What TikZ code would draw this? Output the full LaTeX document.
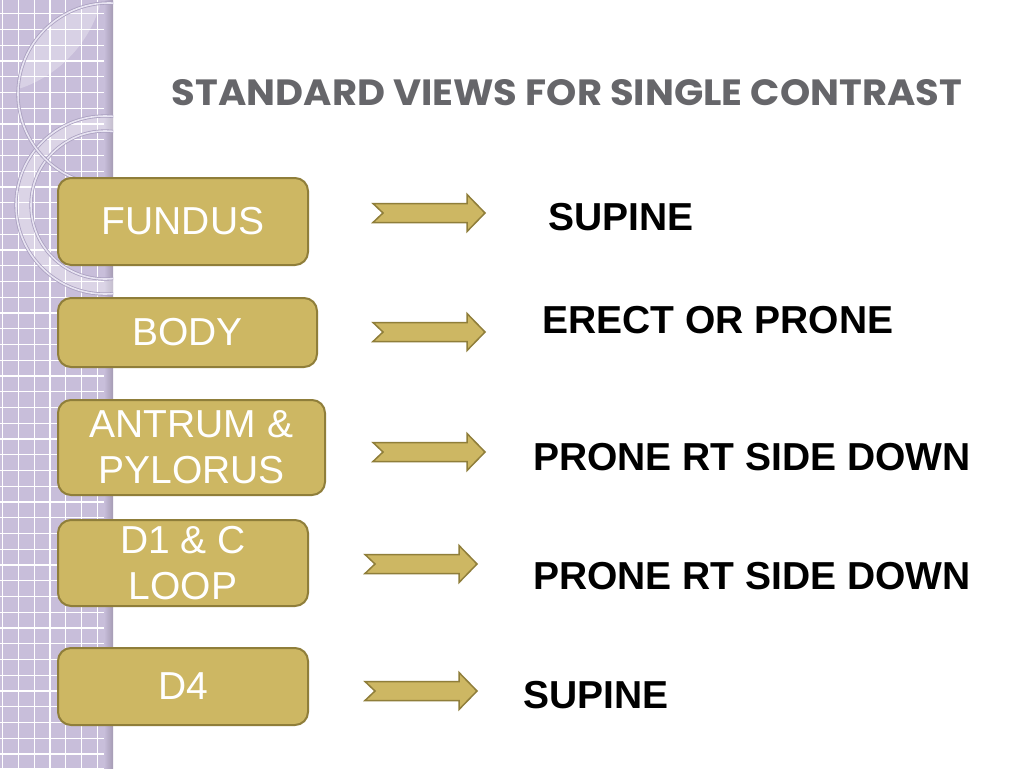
\documentclass[tikz,border=0pt]{standalone}
\usepackage{fontspec}
\setmainfont{Liberation Sans}
\newfontfamily\titlefont{Poppins}
\usepackage{xcolor}
\usepackage{graphicx}
\usepackage{tikz}

\definecolor{sidepurple}{RGB}{200,190,218}
\definecolor{sideedge}{RGB}{165,155,180}
\definecolor{ringline}{RGB}{232,228,242}
\definecolor{ringshade}{RGB}{170,160,192}
\definecolor{boxgold}{RGB}{205,183,99}
\definecolor{boxrim}{RGB}{143,126,58}
\definecolor{titlegray}{RGB}{102,102,106}

\tikzset{
    partbox/.style={draw=boxrim, line width=2pt, fill=boxgold, rounded corners=13pt,
        text=white, align=center, inner sep=0pt, font=\fontsize{39}{46}\selectfont},
    viewlabel/.style={anchor=west, inner sep=0pt, font=\fontsize{39}{46}\selectfont\bfseries},
    ringedge/.style={ringshade, line width=3.2pt},
    ringlight/.style={ringline, line width=1.6pt},
    notcharrow/.pic={
        \draw[draw=boxrim, line width=1.5pt, fill=boxgold]
            (0,-9.5) -- (94,-9.5) -- (94,-18.5) -- (112,0) -- (94,18.5) -- (94,9.5) -- (0,9.5) -- (10,0) -- cycle;
    }
}

\begin{document}
\begin{tikzpicture}[x=1pt, y=-1pt]
    \useasboundingbox (0,0) rectangle (1024,768);
    \fill[white] (0,0) rectangle (1024,768);

    % Purple strip on the left with its grid
    \fill[sidepurple] (0,0) rectangle (113,768);
    \foreach \i in {0,...,49} {
        \draw[white, line width=1.3pt] (0,-2+15.75*\i) -- (106,-2+15.75*\i);
    }
    \foreach \i in {0,...,6} {
        \draw[white, line width=1.3pt] (2.7+15.75*\i,0) -- (2.7+15.75*\i,768);
    }
    \shade[left color=sidepurple, right color=sideedge] (104,0) rectangle (113,768);

    % Rings over the strip
    \begin{scope}
        \clip (0,0) rectangle (113,768);
        \fill[white, opacity=.35, even odd rule] (105,205) circle (89) (105,205) circle (74);
        \draw[ringedge] (105,205) circle (89) (105,205) circle (74);
        \draw[ringlight] (105,205) circle (89) (105,205) circle (74);
        \begin{scope}
            \clip (109,94) circle (91);
            \fill[white, opacity=.3] (-20,-30) circle (125);
        \end{scope}
        \draw[ringedge] (109,94) circle (91);
        \draw[ringlight] (109,94) circle (91);
    \end{scope}

    % Title
    \node[text=titlegray, inner sep=0pt] (title) at (567,93)
        {\resizebox{790pt}{26pt}{\titlefont\bfseries STANDARD VIEWS FOR SINGLE CONTRAST}};

    % Parts of the stomach
    \foreach \name/\x/\y/\w/\h/\txt in {
        fundus/183/221.5/250/87/FUNDUS,
        body/187.5/332.5/259/69/BODY,
        antrum/191.5/447.5/267/95/{ANTRUM \&\\PYLORUS},
        duod/183/563/250/86/{D1 \& C\\LOOP},
        dfour/183/686.5/250/77/D4} {
        \node[partbox, minimum width=\w pt, minimum height=\h pt] (\name) at (\x,\y) {\txt};
    }

    % Notched arrows
    \foreach \name/\x/\y in {afundus/373/213, abody/373/332, aantrum/373/452, aduod/365/564, adfour/365/691} {
        \pic (\name) at (\x,\y) {notcharrow};
    }

    % Views
    \foreach \name/\x/\y/\txt in {
        vfundus/548/217.5/SUPINE,
        vbody/542/320/ERECT OR PRONE,
        vantrum/533/457/PRONE RT SIDE DOWN,
        vduod/533/576/PRONE RT SIDE DOWN,
        vdfour/523/695/SUPINE} {
        \node[viewlabel] (\name) at (\x,\y) {\txt};
    }
\end{tikzpicture}
\end{document}
